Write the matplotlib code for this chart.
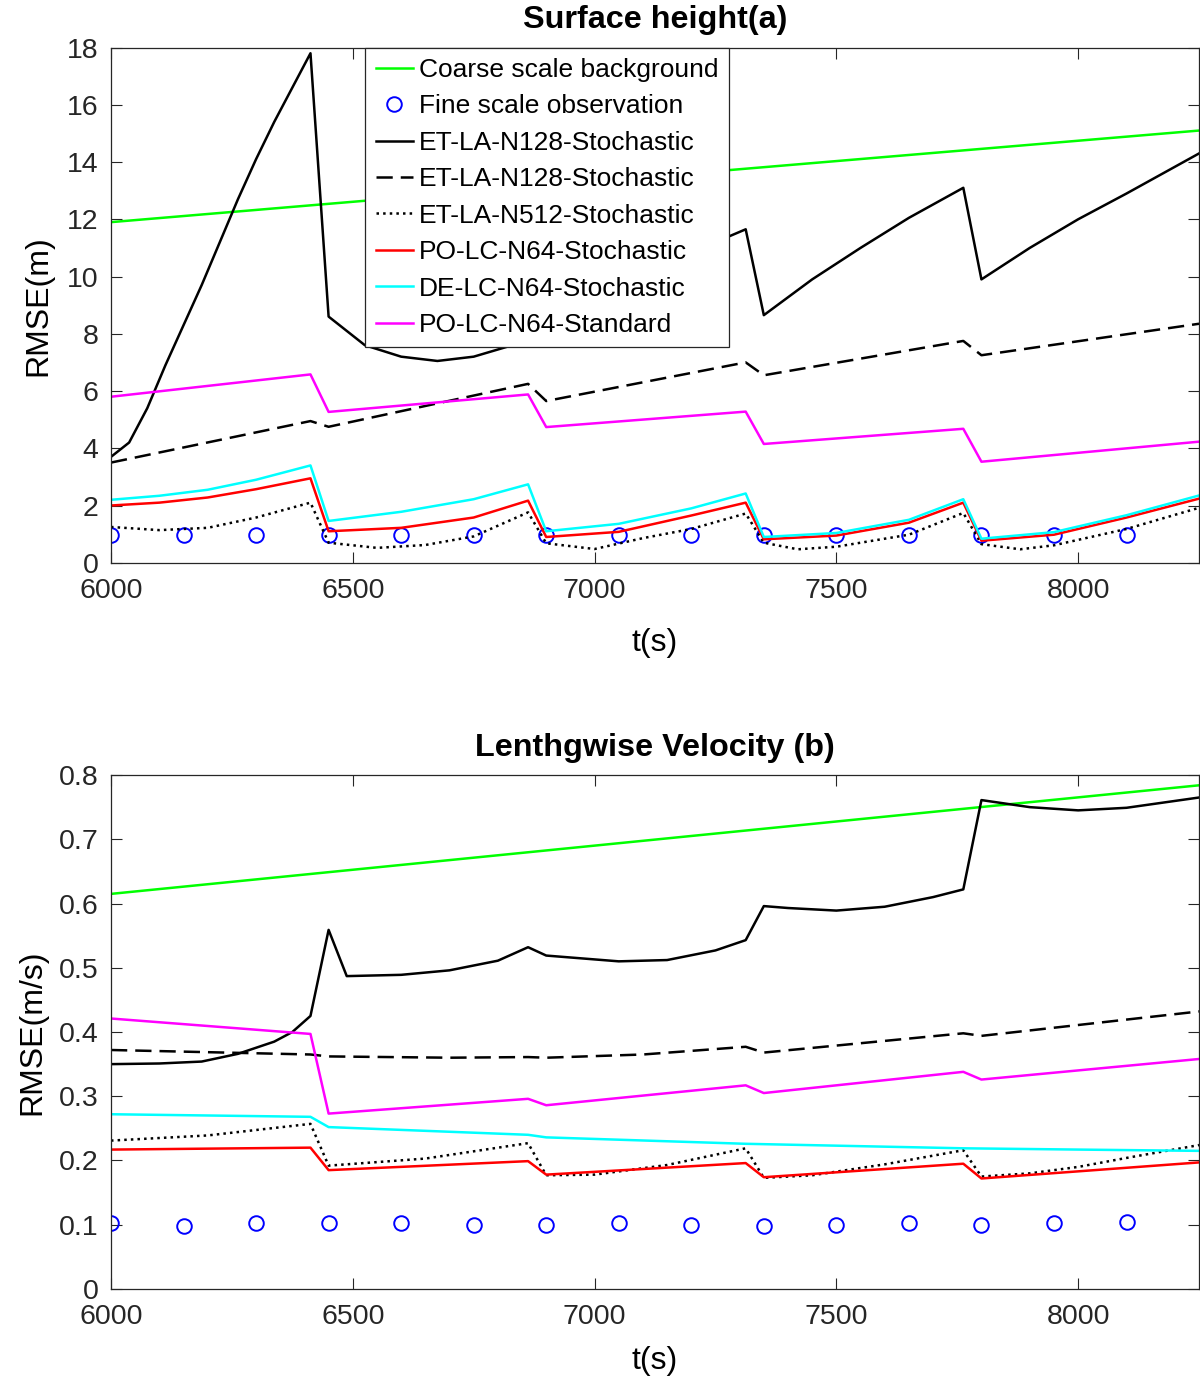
import numpy as np
import matplotlib.pyplot as plt

plt.rcParams['font.family'] = ['Liberation Sans', 'DejaVu Sans']

# ---- surface height (a) ----
t_bg = [6000, 8250]
h_bg = [11.9, 15.1]

t_obs = [6000, 6150, 6300, 6450, 6600, 6750, 6900, 7050, 7200, 7350, 7500, 7650, 7800, 7950, 8100]
h_obs = [0.98, 0.98, 0.98, 0.98, 0.98, 0.98, 0.98, 0.98, 0.98, 0.98, 0.98, 0.98, 0.98, 0.98, 0.98]

t_n128 = [6000, 6037.5, 6075, 6112.5, 6150, 6187.5, 6225, 6262.5, 6300, 6337.5, 6375, 6412.5,
          6450, 6525, 6600, 6675, 6750, 6850, 6950, 7050, 7150, 7250, 7312.5,
          7350, 7450, 7550, 7650, 7762.5, 7800, 7900, 8000, 8100, 8250]
h_n128 = [3.7, 4.2, 5.4, 6.9, 8.3, 9.7, 11.2, 12.7, 14.1, 15.4, 16.6, 17.8,
          8.6, 7.6, 7.2, 7.05, 7.2, 7.7, 8.6, 9.6, 10.5, 11.2, 11.65,
          8.65, 9.9, 11.0, 12.05, 13.1, 9.9, 11.0, 12.0, 12.9, 14.3]

t_n128b = [6000, 6412.5, 6450, 6862.5, 6900, 7312.5, 7350, 7762.5, 7800, 8250]
h_n128b = [3.5, 4.95, 4.75, 6.25, 5.65, 7.0, 6.55, 7.75, 7.25, 8.35]

t_cyc = [6000, 6100, 6200, 6300, 6412.5, 6450, 6600, 6750, 6862.5,
         6900, 7050, 7200, 7312.5, 7350, 7500, 7650, 7762.5, 7800, 7950, 8100, 8250]
h_po = [2.0, 2.1, 2.28, 2.57, 2.95, 1.1, 1.22, 1.58, 2.17,
        0.9, 1.08, 1.65, 2.1, 0.82, 0.95, 1.4, 2.1, 0.77, 0.98, 1.58, 2.24]
h_de = [2.2, 2.34, 2.55, 2.9, 3.4, 1.46, 1.78, 2.22, 2.74,
        1.1, 1.36, 1.9, 2.42, 0.9, 1.04, 1.5, 2.22, 0.84, 1.07, 1.66, 2.35]

t_n512 = [6000, 6100, 6200, 6300, 6412.5, 6450, 6550, 6650, 6750, 6862.5,
          6900, 7000, 7100, 7200, 7312.5, 7350, 7420, 7500, 7650, 7762.5,
          7800, 7880, 7950, 8100, 8250]
h_n512 = [1.25, 1.14, 1.22, 1.58, 2.1, 0.7, 0.52, 0.62, 0.92, 1.76,
          0.68, 0.48, 0.86, 1.18, 1.72, 0.7, 0.47, 0.56, 0.98, 1.74,
          0.65, 0.47, 0.61, 1.18, 1.92]

t_std = [6000, 6412.5, 6450, 6862.5, 6900, 7312.5, 7350, 7762.5, 7800, 8250]
h_std = [5.8, 6.58, 5.27, 5.88, 4.74, 5.28, 4.15, 4.68, 3.53, 4.23]

# ---- lengthwise velocity (b) ----
u_bg = [0.615, 0.784]
u_obs = [0.102, 0.098, 0.102, 0.102, 0.102, 0.100, 0.100, 0.102, 0.100, 0.098, 0.100, 0.102, 0.100, 0.102, 0.104]

tu_n128 = [6000, 6100, 6187.5, 6262.5, 6337.5, 6375, 6412.5, 6450, 6487.5, 6600, 6700, 6800, 6862.5,
           6900, 7050, 7150, 7250, 7312.5, 7350, 7400, 7500, 7600, 7700, 7762.5,
           7800, 7900, 8000, 8100, 8250]
u_n128 = [0.350, 0.351, 0.354, 0.366, 0.385, 0.400, 0.425, 0.559, 0.487, 0.489, 0.496, 0.511, 0.532,
          0.519, 0.510, 0.512, 0.527, 0.543, 0.596, 0.593, 0.589, 0.595, 0.610, 0.622,
          0.761, 0.750, 0.745, 0.749, 0.765]

tu_n128b = [6000, 6412.5, 6450, 6700, 6862.5, 6900, 7100, 7312.5, 7350, 7762.5, 7800, 8250]
u_n128b = [0.372, 0.365, 0.362, 0.360, 0.361, 0.360, 0.365, 0.377, 0.368, 0.398, 0.394, 0.432]

tu_n512 = [6000, 6200, 6412.5, 6450, 6650, 6862.5, 6900, 7000, 7150, 7312.5,
           7350, 7450, 7600, 7762.5, 7800, 7900, 8000, 8100, 8250]
u_n512 = [0.231, 0.239, 0.257, 0.192, 0.203, 0.227, 0.177, 0.178, 0.193, 0.219,
          0.173, 0.177, 0.194, 0.216, 0.175, 0.180, 0.190, 0.204, 0.224]

tu_cyc = [6000, 6412.5, 6450, 6862.5, 6900, 7312.5, 7350, 7762.5, 7800, 8250]
u_po = [0.217, 0.220, 0.185, 0.199, 0.178, 0.196, 0.174, 0.195, 0.172, 0.197]
u_std = [0.421, 0.397, 0.273, 0.296, 0.286, 0.317, 0.305, 0.338, 0.326, 0.358]

tu_de = [6000, 6412.5, 6450, 6862.5, 6900, 7312.5, 7762.5, 8000, 8250]
u_de = [0.272, 0.268, 0.252, 0.240, 0.236, 0.226, 0.219, 0.217, 0.215]

lw = 1.8
fig = plt.figure(figsize=(12, 13.82), dpi=100)
ax1 = fig.add_axes([0.0925, 0.5928, 0.9067, 0.3728])
ax2 = fig.add_axes([0.0925, 0.0673, 0.9067, 0.3719])


def style(ax):
    ax.set_xlim(6000, 8250)
    ax.set_xticks([6000, 6500, 7000, 7500, 8000])
    ax.tick_params(direction='in', top=True, right=True, length=8, width=0.8,
                   labelsize=20.5, colors='#262626')
    ax.tick_params(axis='x', pad=11)
    ax.tick_params(axis='y', pad=9)
    for s in ax.spines.values():
        s.set_color('#262626')
        s.set_linewidth(0.9)


ax1.plot(t_bg, h_bg, color='#00ff00', lw=lw, label='Coarse scale background')
ax1.plot(t_obs, h_obs, 'o', mfc='none', mec='#0000ff', ms=10.5, mew=1.4, label='Fine scale observation')
ax1.plot(t_n128, h_n128, color='k', lw=lw, label='ET-LA-N128-Stochastic')
ax1.plot(t_n128b, h_n128b, color='k', lw=lw, dashes=(6.5, 3.2), label='ET-LA-N128-Stochastic')
ax1.plot(t_n512, h_n512, color='k', lw=lw, ls=':', label='ET-LA-N512-Stochastic')
ax1.plot(t_cyc, h_po, color='#ff0000', lw=lw, label='PO-LC-N64-Stochastic')
ax1.plot(t_cyc, h_de, color='#00ffff', lw=lw, label='DE-LC-N64-Stochastic')
ax1.plot(t_std, h_std, color='#ff00ff', lw=lw, label='PO-LC-N64-Standard')
style(ax1)
ax1.set_ylim(0, 18)
ax1.set_yticks(np.arange(0, 19, 2))
ax1.set_title('Surface height(a)', fontsize=23.3, fontweight='bold', pad=14)
ax1.set_xlabel('t(s)', fontsize=23, labelpad=17)
ax1.set_ylabel('RMSE(m)', fontsize=23, labelpad=10)
leg = ax1.legend(loc='upper left', bbox_to_anchor=(0.2335, 1.0), borderaxespad=0,
                 fontsize=19, frameon=True, fancybox=False, framealpha=1,
                 edgecolor='#262626', handlelength=1.4, handletextpad=0.25,
                 labelspacing=0.47, borderpad=0.4)
leg.get_frame().set_linewidth(0.9)

ax2.plot(t_bg, u_bg, color='#00ff00', lw=lw)
ax2.plot(t_obs, u_obs, 'o', mfc='none', mec='#0000ff', ms=10.5, mew=1.4)
ax2.plot(tu_n128, u_n128, color='k', lw=lw)
ax2.plot(tu_n128b, u_n128b, color='k', lw=lw, dashes=(6.5, 3.2))
ax2.plot(tu_n512, u_n512, color='k', lw=lw, ls=':')
ax2.plot(tu_cyc, u_po, color='#ff0000', lw=lw)
ax2.plot(tu_de, u_de, color='#00ffff', lw=lw)
ax2.plot(tu_cyc, u_std, color='#ff00ff', lw=lw)
style(ax2)
ax2.set_ylim(0, 0.8)
ax2.set_yticks(np.round(np.arange(0, 0.81, 0.1), 1))
ax2.set_yticklabels(['0', '0.1', '0.2', '0.3', '0.4', '0.5', '0.6', '0.7', '0.8'])
ax2.set_title('Lenthgwise Velocity (b)', fontsize=23.3, fontweight='bold', pad=14)
ax2.set_xlabel('t(s)', fontsize=23, labelpad=11)
ax2.set_ylabel('RMSE(m/s)', fontsize=23, labelpad=8)

fig.savefig('out.png', dpi=100)
